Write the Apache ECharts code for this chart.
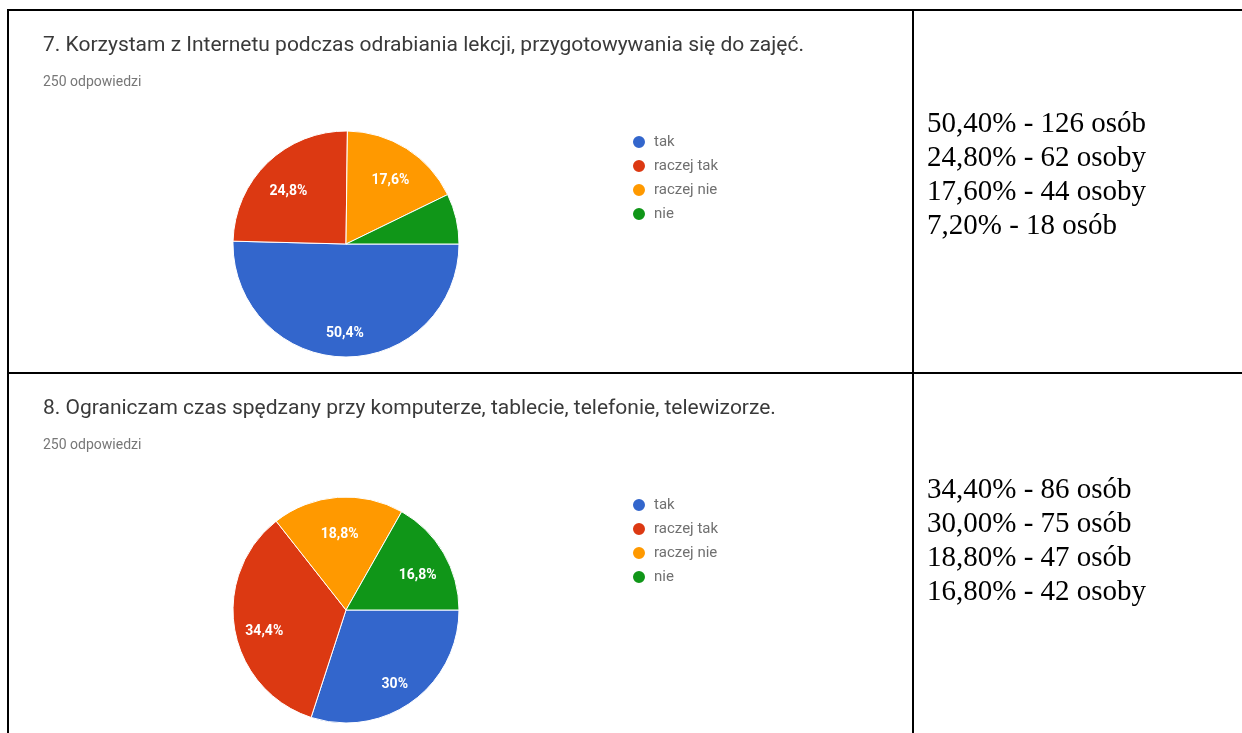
<!DOCTYPE html>
<html><head><meta charset="utf-8">
<script src="https://cdn.jsdelivr.net/npm/echarts@6/dist/echarts.min.js"></script>
<style>html,body{margin:0;padding:0;background:#fff}#c{width:1242px;height:733px}</style>
</head><body><div id="c"></div>
<script>
// ---- data ----
const categories = ['tak', 'raczej tak', 'raczej nie', 'nie'];
const q7Title = '7. Korzystam z Internetu podczas odrabiania lekcji, przygotowywania się do zajęć.';
const q8Title = '8. Ograniczam czas spędzany przy komputerze, tablecie, telefonie, telewizorze.';
const responsesLabel = '250 odpowiedzi';
const totalResponses = 250;
const q7Counts = [126, 62, 44, 18];
const q8Counts = [75, 86, 47, 42];
const sliceColors = ['#3366cc', '#dc3912', '#ff9900', '#109618'];

// ---- helpers ----
function osobWord(n) {
  const d = n % 10, t = n % 100;
  return (d >= 2 && d <= 4 && !(t >= 12 && t <= 14)) ? 'osoby' : 'osób';
}
function summaryLines(counts) {
  return counts.slice().sort((a, b) => b - a).map(c =>
    (c / totalResponses * 100).toFixed(2).replace('.', ',') + '% - ' + c + ' ' + osobWord(c));
}
function pieData(counts) {
  return counts.map((v, i) => ({ name: categories[i], value: v, itemStyle: { color: sliceColors[i] } }));
}
function pctLabel(p) {
  if (p.percent < 10) return '';
  return String(Math.round(p.percent * 10) / 10).replace('.', ',') + '%';
}

const rows = [
  { title: q7Title, counts: q7Counts, top: 10, textTop: 110, cy: 244 },
  { title: q8Title, counts: q8Counts, top: 373, textTop: 476, cy: 610 }
];
const R = 113;

const chart = echarts.init(document.getElementById('c'), null, { renderer: 'canvas' });
const titles = [], legends = [], series = [], graphics = [];

rows.forEach((row, k) => {
  titles.push({
    text: row.title, subtext: responsesLabel, left: 38, top: row.top + 20, itemGap: 19,
    textStyle: { fontFamily: 'Roboto', fontSize: 21, fontWeight: 'normal', color: '#3a3a3a' },
    subtextStyle: { fontFamily: 'Roboto', fontSize: 14, color: '#777' }
  });
  legends.push({
    orient: 'vertical', left: 626, top: row.top + 119, icon: 'circle',
    itemWidth: 14, itemHeight: 14, itemGap: 8, data: categories,
    selectedMode: false,
    textStyle: { fontFamily: 'Roboto', fontSize: 15, color: '#707070', padding: [0, 0, 0, 3] }
  });
  series.push({
    type: 'pie', center: [346, row.cy], radius: [0, R], startAngle: 0, clockwise: true,
    data: pieData(row.counts), label: { show: false }, labelLine: { show: false },
    itemStyle: { borderColor: '#fff', borderWidth: 1 }, emphasis: { disabled: true },
    animation: false
  });
  series.push({
    type: 'pie', center: [346, row.cy], radius: [47, R], startAngle: 0, clockwise: true, silent: true,
    data: row.counts.map((v, i) => ({ name: categories[i], value: v })),
    itemStyle: { color: 'rgba(0,0,0,0)' }, labelLine: { show: false },
    label: { show: true, position: 'inside', formatter: pctLabel, color: '#fff', offset: [0, 7],
      fontFamily: 'Roboto', fontSize: 14, fontWeight: 'bold' },
    emphasis: { disabled: true }, animation: false
  });
  summaryLines(row.counts).forEach((line, i) => {
    graphics.push({
      type: 'text', left: 927, top: row.textTop + i * 34,
      style: { text: line, font: '29px "Liberation Serif", "Times New Roman", serif', fill: '#000' }
    });
  });
});

// table borders
const L = { stroke: '#000', lineWidth: 2 };
graphics.push({ type: 'line', shape: { x1: 7, y1: 10, x2: 1242, y2: 10 }, style: L });
graphics.push({ type: 'line', shape: { x1: 8, y1: 9, x2: 8, y2: 733 }, style: L });
graphics.push({ type: 'line', shape: { x1: 913, y1: 9, x2: 913, y2: 733 }, style: L });
graphics.push({ type: 'line', shape: { x1: 7, y1: 373, x2: 1242, y2: 373 }, style: L });

chart.setOption({
  animation: false,
  title: titles, legend: legends, series: series, graphic: graphics
});
</script></body></html>
